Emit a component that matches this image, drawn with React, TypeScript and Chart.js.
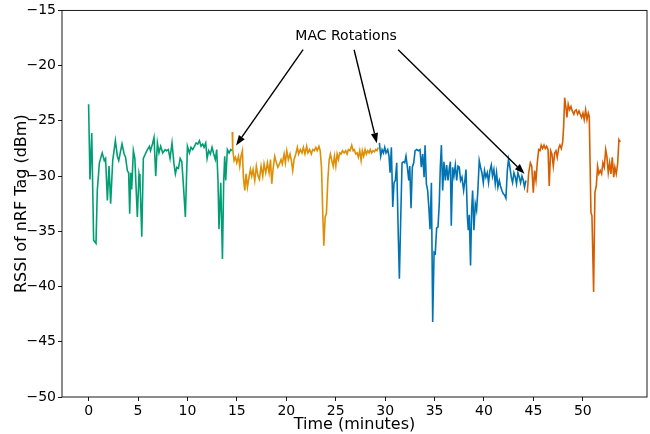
import React, { useEffect, useRef } from 'react';
import { Chart, registerables } from 'chart.js';

Chart.register(...registerables);

// ---- data (time in minutes, RSSI in dBm) ----
const greenTime = [0, 0.14, 0.32, 0.51, 0.75, 0.88, 1.09, 1.38, 1.59, 1.72, 1.9, 2.07, 2.23, 2.44, 2.71, 2.91, 3.05, 3.38, 3.6, 3.74, 3.92, 4.05, 4.16, 4.26, 4.36, 4.53, 4.68, 4.93, 5.1, 5.2, 5.38, 5.54, 5.74, 5.95, 6.15, 6.26, 6.46, 6.62, 6.79, 6.96, 7.12, 7.29, 7.5, 7.74, 7.9, 8.07, 8.24, 8.44, 8.64, 8.78, 8.92, 9.09, 9.26, 9.43, 9.59, 9.79, 10.0, 10.2, 10.36, 10.53, 10.71, 10.88, 11.05, 11.21, 11.38, 11.55, 11.68, 11.85, 11.99, 12.15, 12.32, 12.49, 12.66, 12.82, 12.96, 13.09, 13.19, 13.37, 13.54, 13.67, 13.77, 13.87, 14.04, 14.21, 14.38, 14.5];
const greenRssi = [-23.5, -30.3, -26.1, -35.8, -36.1, -31.3, -28.8, -27.9, -28.6, -28.4, -32.2, -29.1, -32.5, -28.6, -26.8, -28.2, -28.6, -27.1, -28.0, -28.3, -29.5, -29.7, -33.4, -29.7, -31.2, -27.7, -28.4, -33.7, -29.8, -30.3, -35.5, -28.4, -28.0, -27.6, -27.3, -27.7, -27.1, -26.5, -30.0, -27.0, -27.9, -27.3, -27.9, -27.6, -27.7, -27.6, -28.4, -27.0, -28.9, -29.8, -29.2, -29.3, -28.4, -28.7, -30.8, -33.7, -27.3, -27.9, -27.4, -27.6, -27.3, -27.0, -27.1, -26.8, -27.3, -27.1, -27.4, -27.0, -28.4, -27.7, -28.0, -27.4, -28.0, -28.5, -27.6, -30.4, -34.8, -30.6, -37.5, -30.4, -28.2, -30.4, -27.6, -27.9, -27.6, -27.7];

const orangeTime = [14.53, 14.58, 14.72, 14.86, 14.99, 15.16, 15.29, 15.42, 15.56, 15.66, 15.8, 15.93, 16.07, 16.23, 16.37, 16.5, 16.64, 16.81, 16.97, 17.14, 17.28, 17.45, 17.62, 17.75, 17.92, 18.09, 18.26, 18.4, 18.53, 18.66, 18.83, 19.0, 19.14, 19.31, 19.47, 19.6, 19.78, 19.91, 20.05, 20.21, 20.38, 20.51, 20.65, 20.79, 20.96, 21.12, 21.25, 21.42, 21.59, 21.73, 21.89, 22.06, 22.19, 22.36, 22.53, 22.67, 22.83, 22.99, 23.13, 23.3, 23.43, 23.56, 23.7, 23.8, 23.93, 24.06, 24.2, 24.34, 24.46, 24.6, 24.74, 24.87, 25.01, 25.14, 25.27, 25.41, 25.54, 25.68, 25.85, 26.01, 26.15, 26.28, 26.45, 26.62, 26.76, 26.88, 27.02, 27.16, 27.29, 27.43, 27.57, 27.69, 27.83, 27.97, 28.1, 28.24, 28.38, 28.5, 28.64, 28.77, 28.91, 29.05, 29.18, 29.31];
const orangeRssi = [-26.0, -27.6, -28.6, -28.3, -28.8, -28.2, -29.1, -28.2, -27.7, -30.1, -31.3, -29.8, -31.0, -30.1, -29.4, -30.0, -29.4, -30.4, -29.1, -30.0, -30.3, -29.1, -30.0, -28.9, -29.7, -28.8, -29.7, -28.5, -30.7, -29.4, -28.2, -28.8, -29.2, -28.9, -28.5, -28.9, -28.0, -28.8, -27.7, -28.5, -28.0, -28.6, -29.5, -28.5, -28.0, -27.4, -28.0, -27.6, -27.9, -27.4, -28.0, -27.3, -27.9, -27.6, -28.0, -27.6, -27.7, -27.4, -27.7, -27.3, -27.7, -29.2, -33.7, -36.3, -33.7, -33.4, -30.4, -28.5, -28.0, -28.6, -29.1, -28.2, -29.1, -28.0, -28.5, -27.9, -28.0, -27.7, -27.9, -27.7, -28.0, -27.6, -27.7, -27.2, -27.7, -27.6, -28.0, -27.9, -28.3, -27.7, -28.6, -27.7, -28.2, -27.6, -28.0, -27.7, -27.9, -27.6, -27.9, -27.7, -27.8, -27.6, -27.7, -27.4];

const blueTime = [29.42, 29.55, 29.69, 29.83, 29.96, 30.09, 30.26, 30.39, 30.5, 30.63, 30.77, 30.9, 31.03, 31.17, 31.34, 31.44, 31.58, 31.71, 31.84, 31.98, 32.11, 32.25, 32.39, 32.49, 32.62, 32.75, 32.89, 33.03, 33.2, 33.36, 33.53, 33.66, 33.8, 33.94, 34.04, 34.17, 34.3, 34.44, 34.54, 34.68, 34.81, 34.95, 35.07, 35.21, 35.35, 35.48, 35.58, 35.69, 35.82, 35.95, 36.09, 36.22, 36.36, 36.5, 36.6, 36.69, 36.83, 36.96, 37.1, 37.24, 37.37, 37.5, 37.63, 37.77, 37.94, 38.08, 38.18, 38.32, 38.41, 38.51, 38.64, 38.75, 38.85, 38.98, 39.12, 39.25, 39.38, 39.52, 39.65, 39.79, 39.93, 40.05, 40.19, 40.33, 40.46, 40.6, 40.74, 40.86, 41.0, 41.14, 41.27, 41.41, 41.55, 41.67, 41.81, 41.95, 42.08, 42.22, 42.36, 42.48, 42.62, 42.76, 42.89, 43.03, 43.17, 43.29, 43.43, 43.57, 43.7, 43.84, 43.98, 44.1, 44.24];
const blueRssi = [-27.0, -28.2, -27.6, -27.9, -27.4, -27.9, -27.6, -28.2, -29.7, -27.4, -32.8, -30.6, -30.4, -28.8, -35.8, -39.3, -33.7, -28.8, -28.7, -28.8, -28.2, -29.2, -30.4, -29.1, -32.9, -29.2, -28.8, -27.7, -27.6, -27.7, -27.6, -29.2, -28.0, -30.1, -27.2, -30.7, -31.3, -33.1, -34.8, -30.6, -43.2, -36.9, -37.0, -34.7, -34.6, -32.4, -29.2, -27.2, -31.3, -28.7, -30.4, -29.0, -30.4, -29.2, -28.7, -34.5, -29.2, -30.0, -29.0, -30.4, -29.1, -29.2, -30.4, -30.1, -31.3, -30.3, -29.4, -33.7, -34.9, -33.5, -38.1, -33.1, -31.3, -34.9, -32.5, -33.1, -31.3, -28.6, -29.2, -29.7, -30.6, -29.5, -30.1, -29.7, -30.6, -29.5, -29.0, -30.0, -29.4, -30.7, -29.7, -31.0, -30.4, -30.9, -31.3, -31.6, -31.7, -32.0, -29.5, -28.5, -29.2, -30.1, -30.6, -29.7, -30.1, -30.7, -29.7, -30.1, -30.6, -30.0, -30.4, -31.0, -30.4];

const redTime = [44.38, 44.52, 44.69, 44.83, 44.99, 45.12, 45.26, 45.39, 45.53, 45.67, 45.79, 45.93, 46.07, 46.2, 46.34, 46.48, 46.6, 46.74, 46.87, 47.01, 47.15, 47.28, 47.41, 47.55, 47.68, 47.82, 47.96, 48.06, 48.16, 48.28, 48.39, 48.52, 48.66, 48.8, 48.93, 49.09, 49.2, 49.33, 49.47, 49.61, 49.74, 49.87, 50.01, 50.14, 50.28, 50.42, 50.55, 50.65, 50.82, 50.92, 51.09, 51.22, 51.36, 51.49, 51.62, 51.76, 51.9, 52.03, 52.17, 52.31, 52.43, 52.57, 52.71, 52.84, 52.98, 53.12, 53.24, 53.38, 53.52, 53.65, 53.79];
const redRssi = [-31.5, -29.7, -28.8, -29.1, -31.5, -29.5, -30.4, -28.8, -27.6, -27.7, -27.2, -27.5, -27.2, -27.5, -27.3, -27.6, -30.9, -27.7, -28.0, -29.1, -27.9, -27.7, -28.3, -27.5, -27.2, -27.5, -26.9, -25.5, -22.9, -23.7, -24.7, -23.5, -24.0, -23.7, -24.1, -24.4, -24.1, -24.0, -24.4, -24.1, -24.4, -24.7, -24.3, -24.9, -24.0, -24.9, -24.3, -24.6, -33.3, -33.6, -40.5, -31.5, -30.9, -29.1, -29.8, -29.5, -29.8, -28.8, -29.2, -27.6, -28.2, -29.7, -28.8, -29.8, -28.3, -30.1, -29.2, -29.8, -28.9, -26.7, -26.9];

const seriesColors = ['#029E73', '#DE8F05', '#0173B2', '#D55E00'];
const xTickValues = [0, 5, 10, 15, 20, 25, 30, 35, 40, 45, 50];
const xLimits = [-2.69, 56.49];
const yLimits = [-50, -15];
const xTitle = 'Time (minutes)';
const yTitle = 'RSSI of nRF Tag (dBm)';

// annotation (data coordinates)
const noteText = 'MAC Rotations';
const notePos = [26.05, -17.39];
const arrowTails = [[21.7, -18.56], [26.86, -18.56], [31.32, -18.56]];
const arrowHeads = [[14.92, -27.22], [29.16, -27.02], [44.1, -29.78]];

const FONT = "'DejaVu Sans', sans-serif";

const toPoints = (xs: number[], ys: number[]) => xs.map((x, i) => ({ x, y: ys[i] }));

const framePlugin = {
  id: 'frameAndNotes',
  afterDatasetsDraw(chart: any) {
    const { ctx, chartArea, scales } = chart;
    const xs = scales.x;
    const ys = scales.y;
    ctx.save();
    ctx.strokeStyle = '#000';
    ctx.lineWidth = 0.9;
    ctx.strokeRect(chartArea.left, chartArea.top, chartArea.right - chartArea.left, chartArea.bottom - chartArea.top);
    ctx.fillStyle = '#000';
    ctx.font = `14px ${FONT}`;
    ctx.textAlign = 'center';
    ctx.textBaseline = 'middle';
    ctx.fillText(noteText, xs.getPixelForValue(notePos[0]), ys.getPixelForValue(notePos[1]));
    ctx.lineWidth = 1.4;
    for (let i = 0; i < arrowTails.length; i++) {
      const x0 = xs.getPixelForValue(arrowTails[i][0]);
      const y0 = ys.getPixelForValue(arrowTails[i][1]);
      const x1 = xs.getPixelForValue(arrowHeads[i][0]);
      const y1 = ys.getPixelForValue(arrowHeads[i][1]);
      const ang = Math.atan2(y1 - y0, x1 - x0);
      const hl = 10;
      const hw = 3.6;
      const bx = x1 - hl * Math.cos(ang);
      const by = y1 - hl * Math.sin(ang);
      ctx.beginPath();
      ctx.moveTo(x0, y0);
      ctx.lineTo(bx, by);
      ctx.stroke();
      ctx.beginPath();
      ctx.moveTo(x1, y1);
      ctx.lineTo(bx + hw * Math.sin(ang), by - hw * Math.cos(ang));
      ctx.lineTo(bx - hw * Math.sin(ang), by + hw * Math.cos(ang));
      ctx.closePath();
      ctx.fill();
    }
    ctx.restore();
  },
};

export default function App() {
  const ref = useRef<HTMLCanvasElement | null>(null);
  useEffect(() => {
    if (!ref.current) return;
    const mk = (label: string, xs: number[], ys: number[], color: string) => ({
      label,
      data: toPoints(xs, ys),
      borderColor: color,
      backgroundColor: color,
      borderWidth: 1.6,
      pointRadius: 0,
      tension: 0,
      fill: false,
    });
    const chart = new Chart(ref.current, {
      type: 'line',
      data: {
        datasets: [
          mk('1', greenTime, greenRssi, seriesColors[0]),
          mk('2', orangeTime, orangeRssi, seriesColors[1]),
          mk('3', blueTime, blueRssi, seriesColors[2]),
          mk('4', redTime, redRssi, seriesColors[3]),
        ],
      },
      options: {
        animation: false,
        responsive: true,
        maintainAspectRatio: false,
        devicePixelRatio: 1,
        layout: { padding: { top: 9, right: 3, left: 0, bottom: 0 } },
        plugins: { legend: { display: false }, tooltip: { enabled: false } },
        scales: {
          x: {
            type: 'linear',
            min: xLimits[0],
            max: xLimits[1],
            afterBuildTicks: (axis: any) => {
              axis.ticks = xTickValues.map((v) => ({ value: v }));
            },
            afterFit: (scale: any) => {
              scale.height = 37;
            },
            grid: { drawOnChartArea: false, drawTicks: true, tickLength: 4, color: '#000', lineWidth: 0.9 },
            border: { display: false },
            ticks: {
              autoSkip: false,
              maxRotation: 0,
              padding: 2,
              color: '#000',
              font: { family: FONT, size: 14 },
              callback: (v: any) => String(v).replace('-', '\u2212'),
            },
            title: {
              display: true,
              text: xTitle,
              color: '#000',
              font: { family: FONT, size: 16 },
              padding: { top: 0, bottom: 0 },
            },
          },
          y: {
            type: 'linear',
            min: yLimits[0],
            max: yLimits[1],
            afterFit: (scale: any) => {
              scale.width = 62;
            },
            grid: { drawOnChartArea: false, drawTicks: true, tickLength: 4, color: '#000', lineWidth: 0.9 },
            border: { display: false },
            ticks: {
              stepSize: 5,
              padding: 2,
              color: '#000',
              font: { family: FONT, size: 14 },
              callback: (v: any) => String(v).replace('-', '\u2212'),
            },
            title: {
              display: true,
              text: yTitle,
              color: '#000',
              font: { family: FONT, size: 16 },
              padding: { top: 12, bottom: 0 },
            },
          },
        },
      },
      plugins: [framePlugin],
    });
    return () => chart.destroy();
  }, []);
  return (
    <div style={{ position: 'absolute', left: 0, top: 0, width: 650, height: 434, background: '#fff' }}>
      <canvas ref={ref} />
    </div>
  );
}
